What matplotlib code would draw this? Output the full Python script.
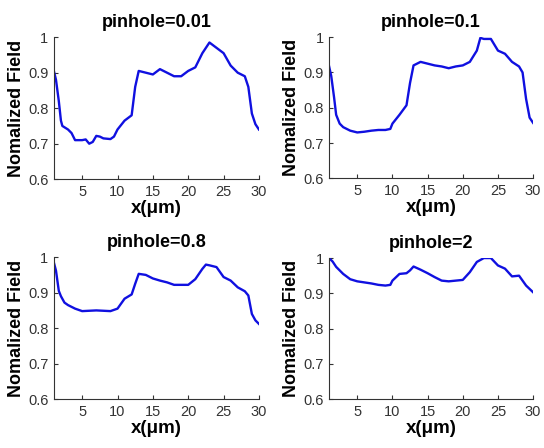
import matplotlib
matplotlib.use("Agg")
import matplotlib.pyplot as plt

plt.rcParams['font.family'] = ['Liberation Sans', 'DejaVu Sans']

titles = ["pinhole=0.01", "pinhole=0.1", "pinhole=0.8", "pinhole=2"]

# pinhole = 0.01
x1 = [1, 1.3, 1.7, 2, 2.2, 3, 3.5, 4, 5, 5.5, 6, 6.5, 7, 7.5, 8, 9, 9.5, 10, 11, 12,
      12.5, 13, 14, 15, 16, 17, 18, 19, 20, 21, 22, 23, 24, 25, 26, 27, 28, 28.5, 29, 29.5, 30]
y1 = [0.905, 0.88, 0.82, 0.765, 0.75, 0.74, 0.73, 0.71, 0.71, 0.712, 0.70, 0.705, 0.722, 0.72,
      0.715, 0.713, 0.72, 0.74, 0.765, 0.78, 0.86, 0.905, 0.90, 0.895, 0.91, 0.90, 0.89, 0.89,
      0.905, 0.915, 0.955, 0.985, 0.97, 0.955, 0.92, 0.90, 0.89, 0.86, 0.785, 0.755, 0.74]

# pinhole = 0.1
x2 = [1, 1.3, 1.7, 2, 2.5, 3, 3.5, 4, 5, 6, 7, 8, 9, 9.7, 10, 11, 12, 12.5, 13, 14, 15, 16,
      17, 18, 19, 20, 21, 22, 22.5, 23, 24, 25, 26, 27, 28, 28.5, 29, 29.5, 30]
y2 = [0.917, 0.89, 0.83, 0.78, 0.755, 0.745, 0.74, 0.735, 0.73, 0.732, 0.735, 0.737, 0.737,
      0.74, 0.755, 0.78, 0.807, 0.87, 0.92, 0.93, 0.925, 0.92, 0.917, 0.912, 0.917, 0.92, 0.93,
      0.962, 0.998, 0.995, 0.995, 0.962, 0.953, 0.93, 0.917, 0.90, 0.825, 0.772, 0.757]

# pinhole = 0.8
x3 = [1, 1.3, 1.7, 2, 2.5, 3, 4, 5, 6, 7, 8, 9, 10, 11, 12, 12.5, 13, 14, 15, 16, 17, 18,
      19, 20, 21, 22, 22.5, 23, 24, 25, 26, 27, 28, 28.5, 29, 29.5, 30]
y3 = [0.985, 0.962, 0.905, 0.89, 0.872, 0.865, 0.855, 0.848, 0.849, 0.85, 0.849, 0.848, 0.855,
      0.883, 0.895, 0.925, 0.953, 0.95, 0.94, 0.934, 0.929, 0.922, 0.922, 0.922, 0.938, 0.967,
      0.979, 0.977, 0.972, 0.944, 0.934, 0.915, 0.904, 0.892, 0.84, 0.822, 0.812]

# pinhole = 2
x4 = [1, 1.5, 2, 3, 4, 5, 6, 7, 8, 9, 9.7, 10, 11, 12, 12.5, 13, 14, 15, 16, 17, 18, 19, 20,
      21, 22, 23, 24, 25, 26, 27, 28, 29, 30]
y4 = [1.0, 0.99, 0.975, 0.955, 0.94, 0.934, 0.931, 0.928, 0.924, 0.922, 0.924, 0.936, 0.955,
      0.957, 0.965, 0.976, 0.967, 0.957, 0.946, 0.936, 0.934, 0.936, 0.938, 0.96, 0.989, 1.0,
      1.0, 0.979, 0.97, 0.948, 0.95, 0.922, 0.903]

series = [(x1, y1), (x2, y2), (x3, y3), (x4, y4)]
xticks = [5, 10, 15, 20, 25, 30]
yticks = [0.6, 0.7, 0.8, 0.9, 1.0]
ytick_labels = ["0.6", "0.7", "0.8", "0.9", "1"]

fig = plt.figure(figsize=(5.44, 4.48), dpi=100)
positions = [
    [0.099, 0.600, 0.377, 0.317],
    [0.605, 0.602, 0.375, 0.315],
    [0.099, 0.109, 0.377, 0.317],
    [0.605, 0.109, 0.375, 0.315],
]

for pos, title, (xs, ys) in zip(positions, titles, series):
    ax = fig.add_axes(pos)
    ax.plot(xs, ys, color='#1010e0', lw=1.7)
    ax.set_xlim(1, 30)
    ax.set_ylim(0.6, 1.0)
    ax.set_xticks(xticks)
    ax.set_yticks(yticks)
    ax.set_yticklabels(ytick_labels)
    ax.spines['top'].set_visible(False)
    ax.spines['right'].set_visible(False)
    for s in ['left', 'bottom']:
        ax.spines[s].set_color('#333333')
        ax.spines[s].set_linewidth(0.8)
    ax.tick_params(direction='in', length=3, labelsize=10.5, colors='#333333', pad=4)
    ax.set_title(title, fontsize=13, fontweight='bold', pad=7)
    ax.set_xlabel("x(\u03bcm)", fontsize=13.5, fontweight='bold', labelpad=1)
    ax.set_ylabel("Nomalized Field", fontsize=13, fontweight='bold', labelpad=2)

fig.savefig("out.png", dpi=100)
